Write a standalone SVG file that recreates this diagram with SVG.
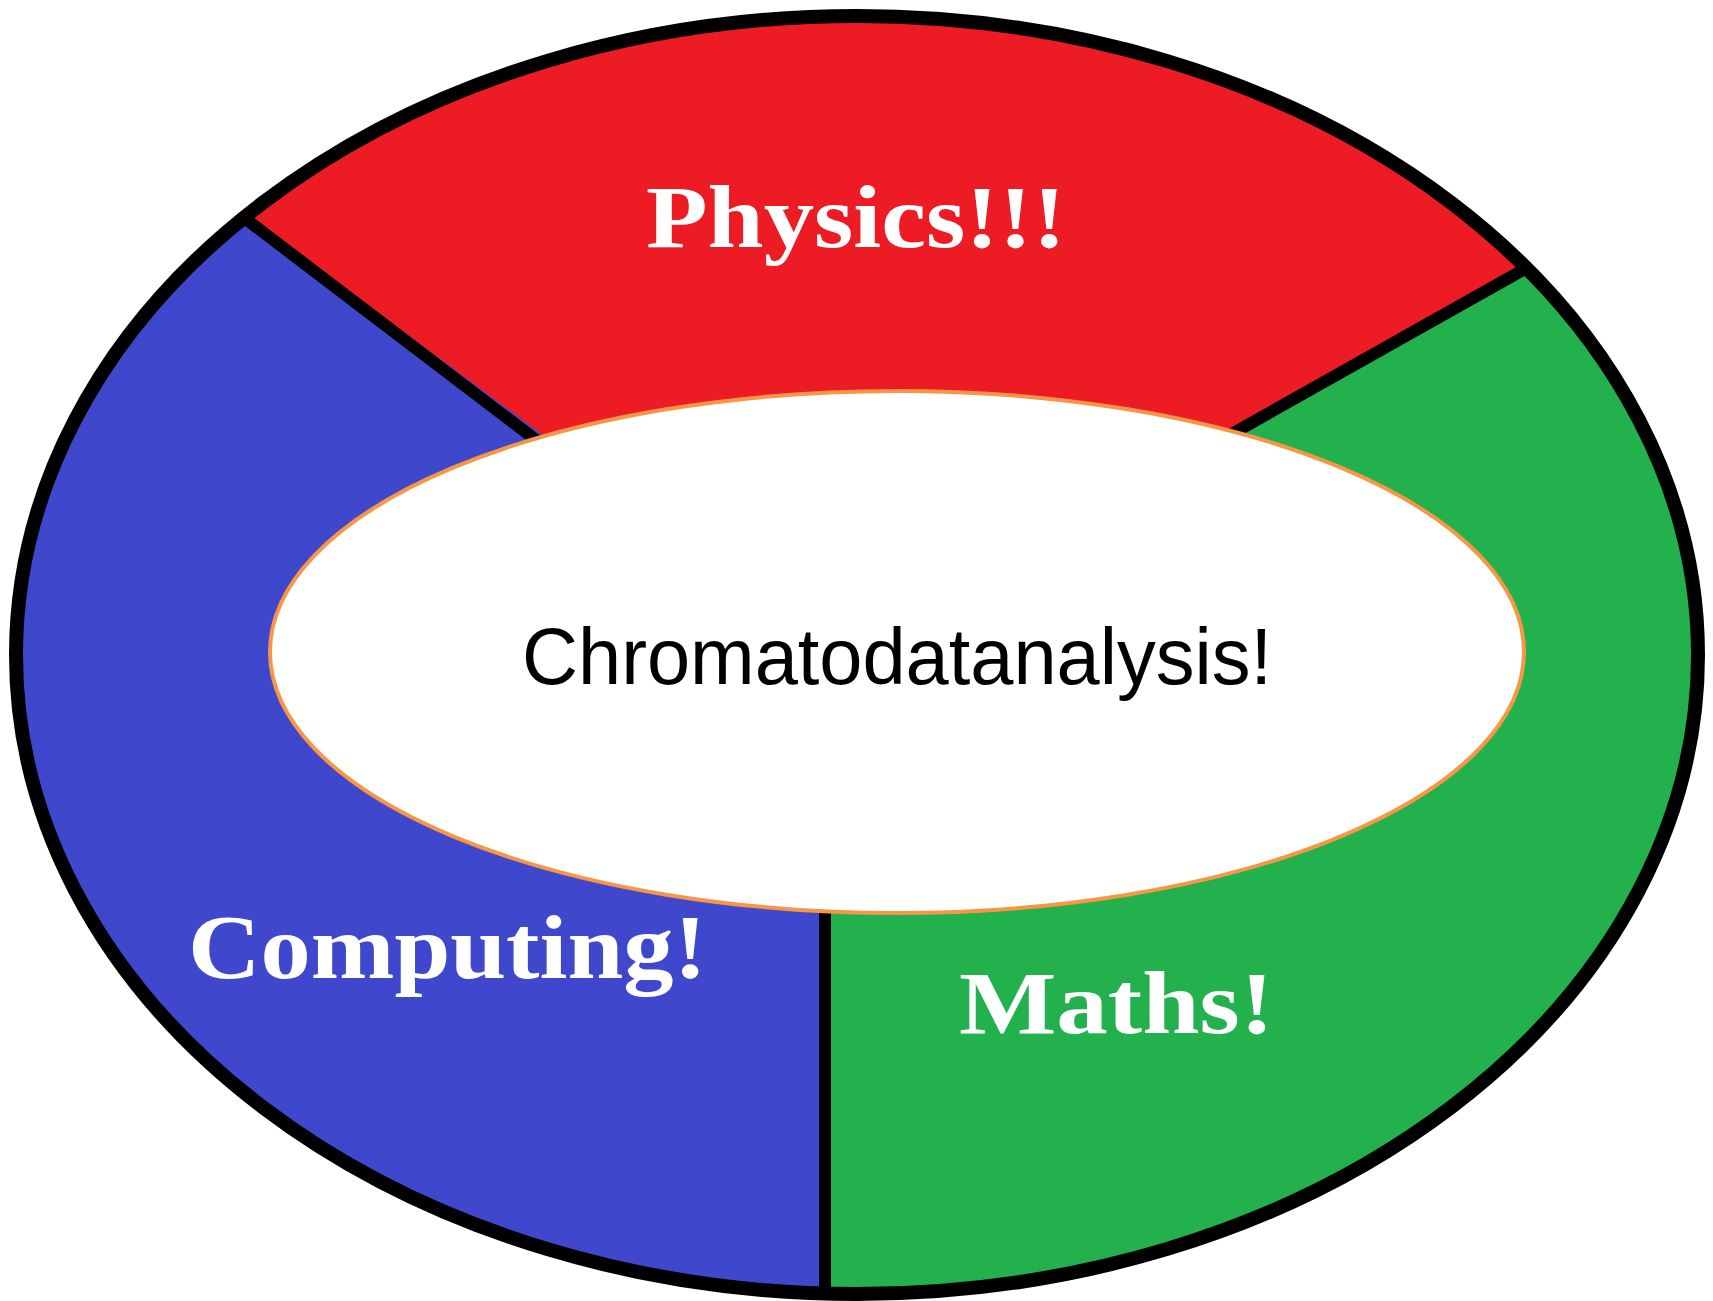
<svg xmlns="http://www.w3.org/2000/svg" width="1713" height="1301" viewBox="0 0 1713 1301">
<style>
.lbl{font-family:"Liberation Serif","Times New Roman",serif;font-weight:bold;fill:#ffffff}
.div{stroke:#000;stroke-width:12;fill:none}
</style>
<defs>
<clipPath id="outerClip"><ellipse cx="857" cy="655" rx="841" ry="639"/></clipPath>
</defs>
<rect width="1713" height="1301" fill="#ffffff"/>
<g id="ring">
<g clip-path="url(#outerClip)">
<rect id="computing-bg" x="0" y="0" width="1713" height="1301" fill="#3F48CC"/>
<polygon id="physics-bg" points="-5,28 700,552 1000,565 1750,142 1750,-10 -5,-10" fill="#ED1C24"/>
<polygon id="maths-bg" points="825,1310 825,600 1000,565 1750,142 1750,1310" fill="#22B14C"/>
</g>
</g>
<g id="connectors">
<line class="div" x1="247" y1="220" x2="540" y2="443"/>
<line class="div" x1="1523" y1="270" x2="1230" y2="435"/>
<line class="div" x1="825" y1="900" x2="825" y2="1295" stroke-width="14"/>
</g>
<ellipse id="outer-border" cx="857" cy="655" rx="841" ry="639" fill="none" stroke="#000" stroke-width="14"/>
<g id="physics"><text class="lbl" x="646" y="247" font-size="89" textLength="420" lengthAdjust="spacingAndGlyphs">Physics!!!</text></g>
<g id="computing"><text class="lbl" x="188" y="978" font-size="92" textLength="519" lengthAdjust="spacingAndGlyphs">Computing!</text></g>
<g id="maths"><text class="lbl" x="959" y="1033" font-size="88" textLength="315" lengthAdjust="spacingAndGlyphs">Maths!</text></g>
<g id="center">
<ellipse cx="897" cy="652" rx="627" ry="261" fill="#ffffff" stroke="#F79646" stroke-width="4"/>
<text x="522" y="684" font-family="Liberation Sans, Arial, sans-serif" font-size="80" fill="#000" textLength="750" lengthAdjust="spacingAndGlyphs">Chromatodatanalysis!</text>
</g>
</svg>
